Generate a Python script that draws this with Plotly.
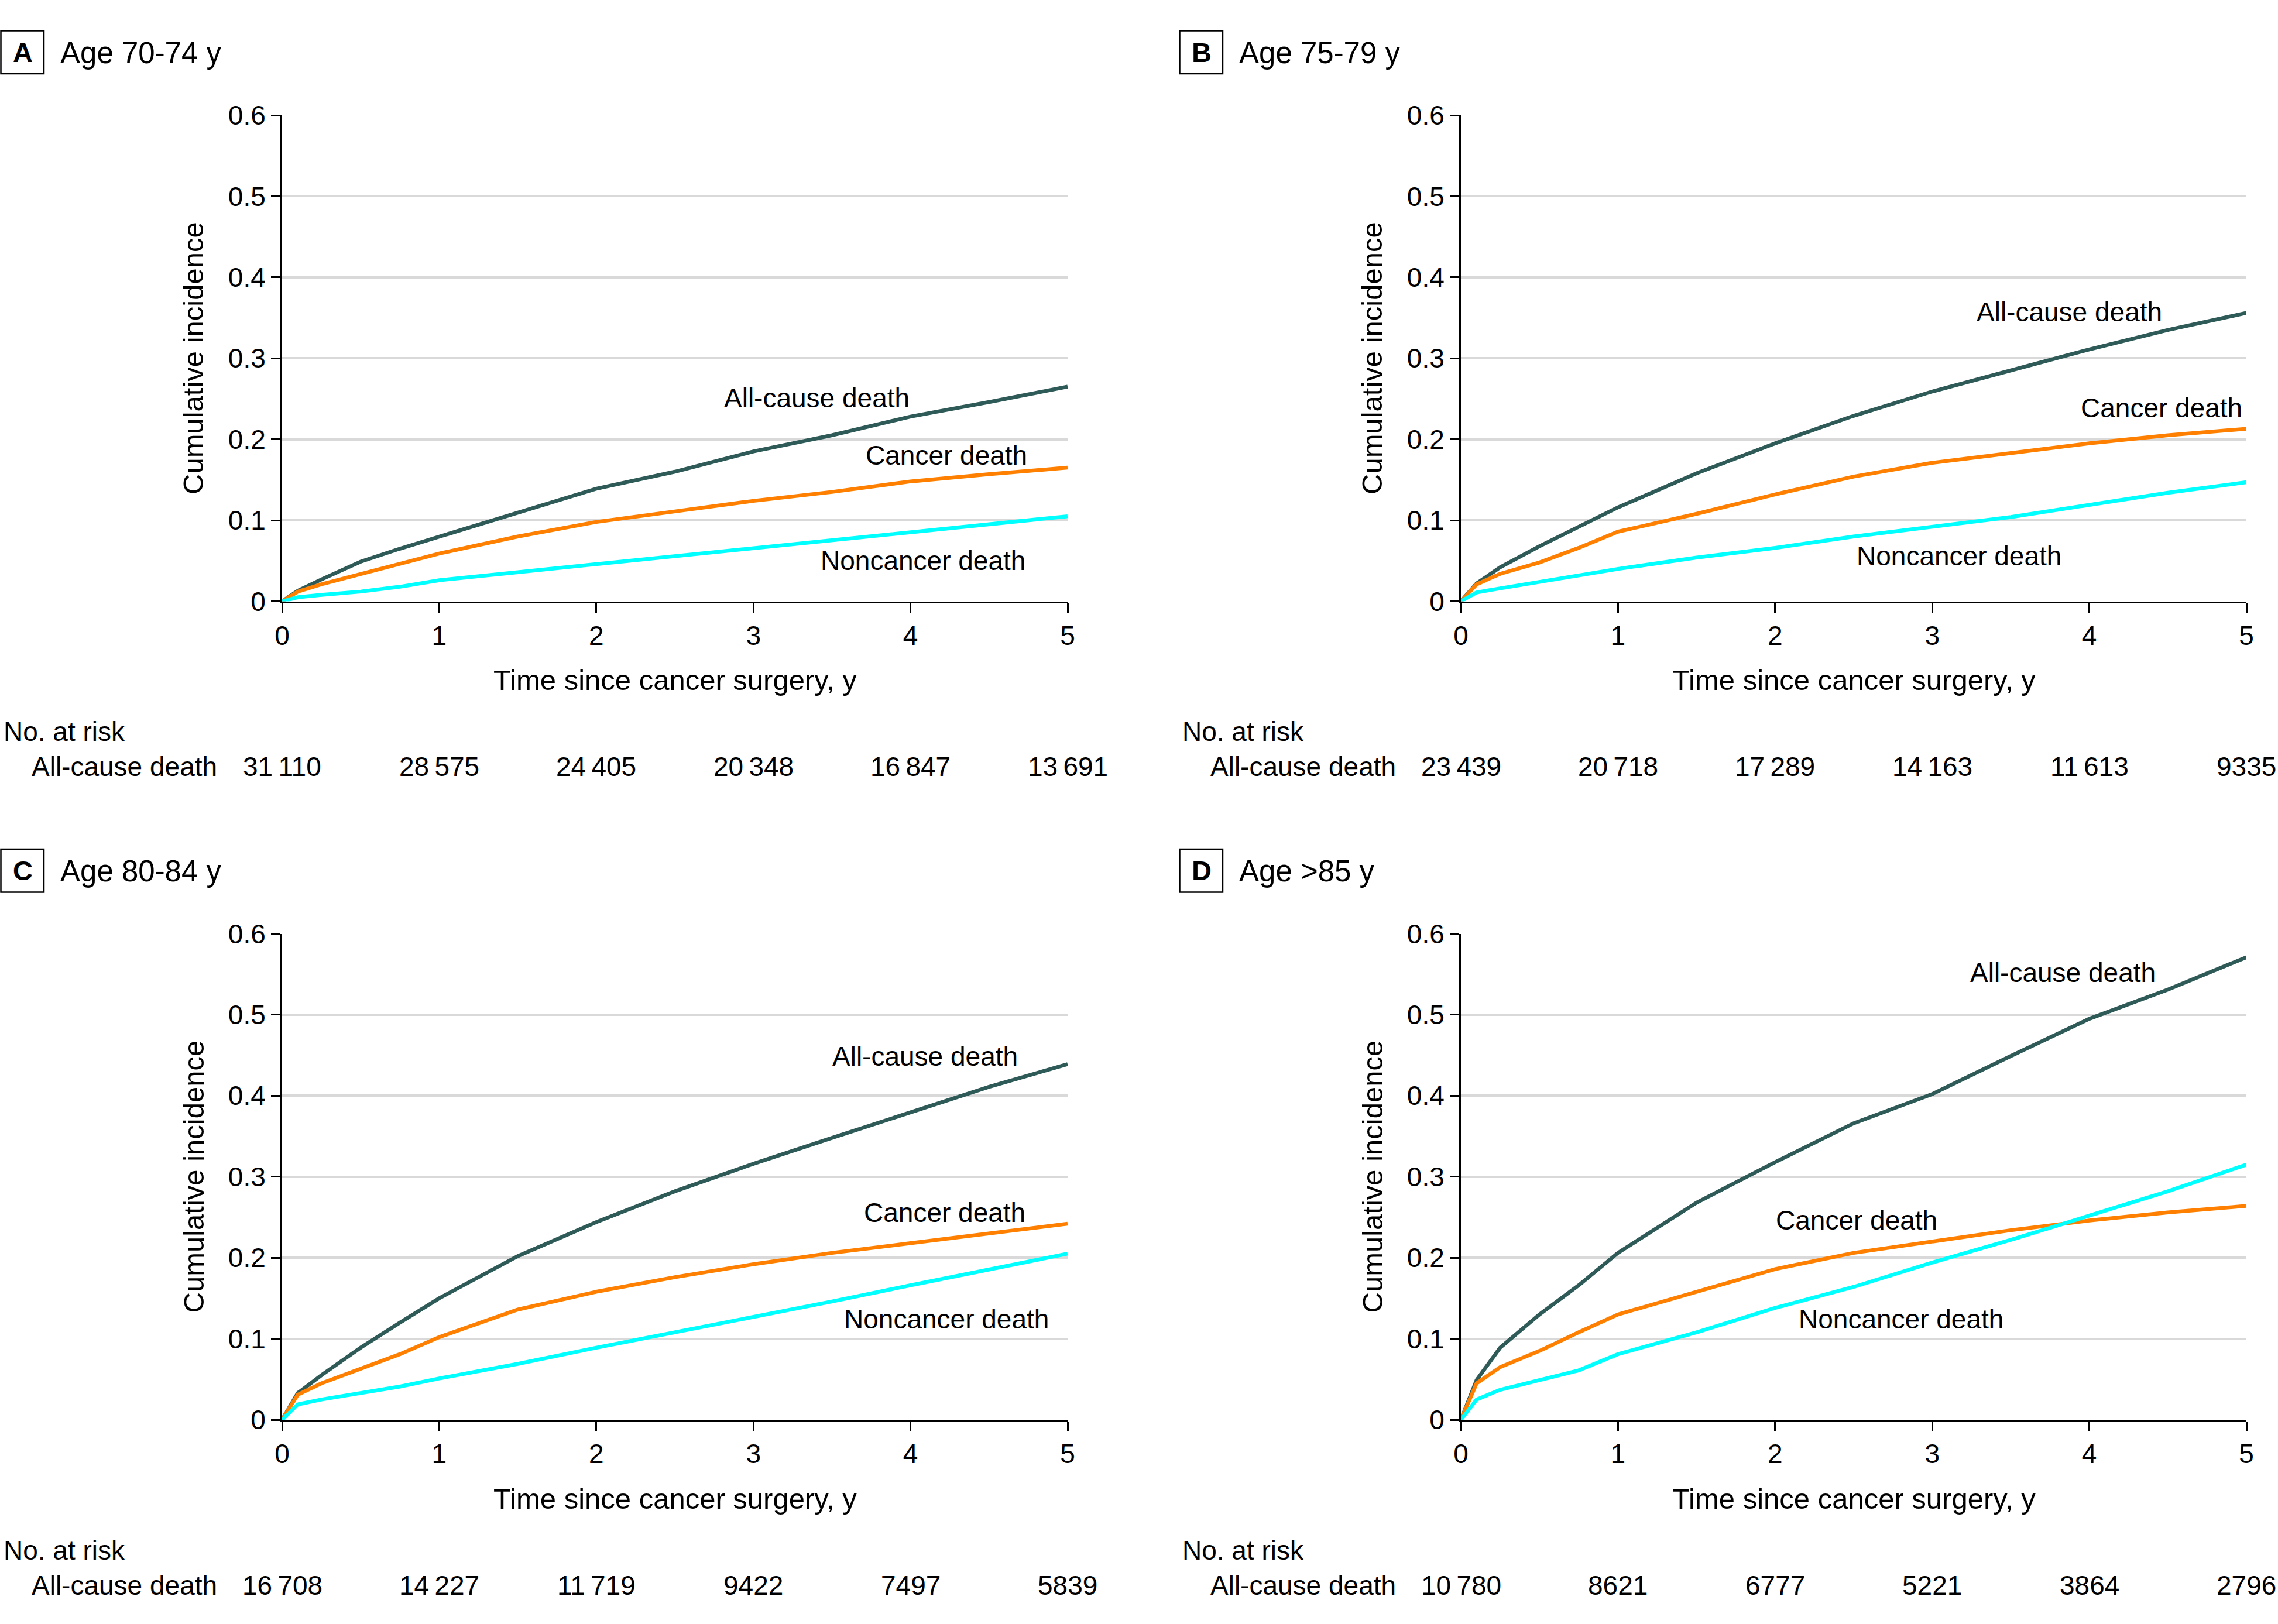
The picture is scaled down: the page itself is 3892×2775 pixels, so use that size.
import plotly.graph_objects as go

W, H = 3892, 2775
FONT = "Liberation Sans"

years = [0, 0.1, 0.25, 0.5, 0.75, 1, 1.5, 2, 2.5, 3, 3.5, 4, 4.5, 5]

# A: age 70-74
a_all = [0, 0.013, 0.027, 0.049, 0.065, 0.080, 0.109, 0.139, 0.160, 0.185, 0.205, 0.228, 0.246, 0.265]
a_cancer = [0, 0.012, 0.021, 0.034, 0.046, 0.059, 0.080, 0.098, 0.111, 0.124, 0.135, 0.148, 0.157, 0.165]
a_noncancer = [0, 0.005, 0.008, 0.012, 0.018, 0.026, 0.036, 0.046, 0.055, 0.066, 0.075, 0.085, 0.095, 0.105]

# B: age 75-79
b_all = [0, 0.022, 0.042, 0.068, 0.092, 0.116, 0.158, 0.195, 0.229, 0.259, 0.285, 0.311, 0.335, 0.356]
b_cancer = [0, 0.021, 0.034, 0.048, 0.066, 0.086, 0.108, 0.132, 0.154, 0.171, 0.183, 0.195, 0.205, 0.213]
b_noncancer = [0, 0.011, 0.016, 0.024, 0.032, 0.040, 0.054, 0.066, 0.080, 0.092, 0.104, 0.119, 0.134, 0.147]

# C: age 80-84
c_all = [0, 0.033, 0.055, 0.089, 0.120, 0.150, 0.202, 0.244, 0.282, 0.316, 0.348, 0.380, 0.411, 0.439]
c_cancer = [0, 0.031, 0.045, 0.063, 0.081, 0.102, 0.136, 0.158, 0.176, 0.192, 0.206, 0.218, 0.230, 0.242]
c_noncancer = [0, 0.019, 0.025, 0.033, 0.041, 0.051, 0.069, 0.089, 0.108, 0.126, 0.146, 0.166, 0.186, 0.205]

# D: age >85
d_all = [0, 0.049, 0.089, 0.130, 0.166, 0.206, 0.268, 0.318, 0.366, 0.402, 0.449, 0.495, 0.531, 0.571]
d_cancer = [0, 0.045, 0.065, 0.085, 0.108, 0.130, 0.158, 0.186, 0.206, 0.220, 0.234, 0.246, 0.256, 0.264]
d_noncancer = [0, 0.025, 0.037, 0.049, 0.061, 0.081, 0.108, 0.138, 0.164, 0.194, 0.222, 0.252, 0.282, 0.315]

# number at risk (all-cause death) at years 0..5
a_risk = [31110, 28575, 24405, 20348, 16847, 13691]
b_risk = [23439, 20718, 17289, 14163, 11613, 9335]
c_risk = [16708, 14227, 11719, 9422, 7497, 5839]
d_risk = [10780, 8621, 6777, 5221, 3864, 2796]

letters = ["A", "B", "C", "D"]
titles = ["Age 70-74 y", "Age 75-79 y", "Age 80-84 y", "Age >85 y"]

# curve label positions: (right-end year, value) for all-cause, cancer, noncancer
label_pos = [
    [(4.00, 0.251), (4.75, 0.180), (4.74, 0.050)],
    [(4.47, 0.357), (4.98, 0.239), (3.83, 0.056)],
    [(4.69, 0.449), (4.74, 0.256), (4.89, 0.124)],
    [(4.43, 0.552), (3.04, 0.246), (3.46, 0.124)],
]

panels = [
    (a_all, a_cancer, a_noncancer, a_risk),
    (b_all, b_cancer, b_noncancer, b_risk),
    (c_all, c_cancer, c_noncancer, c_risk),
    (d_all, d_cancer, d_noncancer, d_risk),
]

names = ["All-cause death", "Cancer death", "Noncancer death"]
colors = ["#2E5A57", "#FF8000", "#00FFFF"]


def px(x):
    return x / W


def py(y):
    return 1 - y / H


def fmt(n):
    s = str(n)
    if n >= 10000:
        s = s[:-3] + "\u2009" + s[-3:]
    return s


fig = go.Figure()
annotations = []
shapes = []

offsets = [(0, 0), (2014, 0), (0, 1398.5), (2014, 1398.5)]

for i, (data, (dx, dy)) in enumerate(zip(panels, offsets)):
    k = "" if i == 0 else str(i + 1)
    xa, ya = "x" + k, "y" + k
    for series, name, col in zip(data[:3], names, colors):
        fig.add_trace(go.Scatter(x=years, y=series, mode="lines", name=name,
                                 line=dict(color=col, width=6.5), xaxis=xa, yaxis=ya,
                                 showlegend=False))
    x0, x1 = 482 + dx, 1824 + dx
    y0, y1 = 1027.5 + dy, 197 + dy
    axis_common = dict(showline=True, linecolor="black", linewidth=3,
                       ticks="outside", ticklen=16, tickwidth=3, tickcolor="black",
                       tickfont=dict(family=FONT, size=46, color="black"),
                       zeroline=False, fixedrange=True, automargin=False)
    fig.update_layout(**{
        ("xaxis" + k): dict(domain=[px(x0), px(x1)], range=[0, 5], tickvals=[0, 1, 2, 3, 4, 5],
                            showgrid=False, anchor=ya, **axis_common),
        ("yaxis" + k): dict(domain=[py(y0), py(y1)], range=[0, 0.6],
                            tickvals=[0, 0.1, 0.2, 0.3, 0.4, 0.5, 0.6],
                            ticktext=["0", "0.1", "0.2", "0.3", "0.4", "0.5", "0.6"],
                            showgrid=True, gridcolor="#D9D9D9", gridwidth=4,
                            anchor=xa, **axis_common),
    })

    # panel letter box and title
    shapes.append(dict(type="rect", xref="paper", yref="paper",
                       x0=px(1.5 + dx), x1=px(75 + dx), y0=py(126 + dy), y1=py(52.5 + dy),
                       line=dict(color="black", width=2.5), fillcolor="white"))
    annotations.append(dict(text="<b>%s</b>" % letters[i], xref="paper", yref="paper",
                            x=px(38.5 + dx), y=py(89 + dy), xanchor="center", yanchor="middle",
                            showarrow=False, font=dict(family=FONT, size=47, color="black")))
    annotations.append(dict(text=titles[i], xref="paper", yref="paper",
                            x=px(101 + dx), y=py(90 + dy), xanchor="left", yanchor="middle",
                            showarrow=False, font=dict(family=FONT, size=51, color="black")))

    # axis titles
    annotations.append(dict(text="Cumulative incidence", xref="paper", yref="paper",
                            x=px(330 + dx), y=py(612 + dy), textangle=-90,
                            xanchor="center", yanchor="middle", showarrow=False,
                            font=dict(family=FONT, size=49, color="black")))
    annotations.append(dict(text="Time since cancer surgery, y", xref="paper", yref="paper",
                            x=px(1153 + dx), y=py(1162 + dy), xanchor="center", yanchor="middle",
                            showarrow=False, font=dict(family=FONT, size=49, color="black")))

    # curve labels
    for (lx, ly), name in zip(label_pos[i], names):
        annotations.append(dict(text=name, xref=xa, yref=ya, x=lx, y=ly,
                                xanchor="right", yanchor="middle", showarrow=False,
                                font=dict(family=FONT, size=46, color="black")))

    # number at risk table
    annotations.append(dict(text="No. at risk", xref="paper", yref="paper",
                            x=px(4 + dx), y=py(1250 + dy), xanchor="left", yanchor="middle",
                            showarrow=False, font=dict(family=FONT, size=46, color="black")))
    annotations.append(dict(text="All-cause death", xref="paper", yref="paper",
                            x=px(52 + dx), y=py(1310 + dy), xanchor="left", yanchor="middle",
                            showarrow=False, font=dict(family=FONT, size=46, color="black")))
    for yr, n in enumerate(data[3]):
        annotations.append(dict(text=fmt(n), xref=xa, yref="paper", x=yr, y=py(1310 + dy),
                                xanchor="center", yanchor="middle", showarrow=False,
                                font=dict(family=FONT, size=46, color="black")))

fig.update_layout(width=W, height=H, margin=dict(l=0, r=0, t=0, b=0),
                  paper_bgcolor="white", plot_bgcolor="white",
                  annotations=annotations, shapes=shapes,
                  font=dict(family=FONT, color="black"))

# drop the default page margin so the figure sits at the window origin
fig.write_html("out.html", config={"displayModeBar": False},
               post_script="document.body.style.margin = '0px';")
